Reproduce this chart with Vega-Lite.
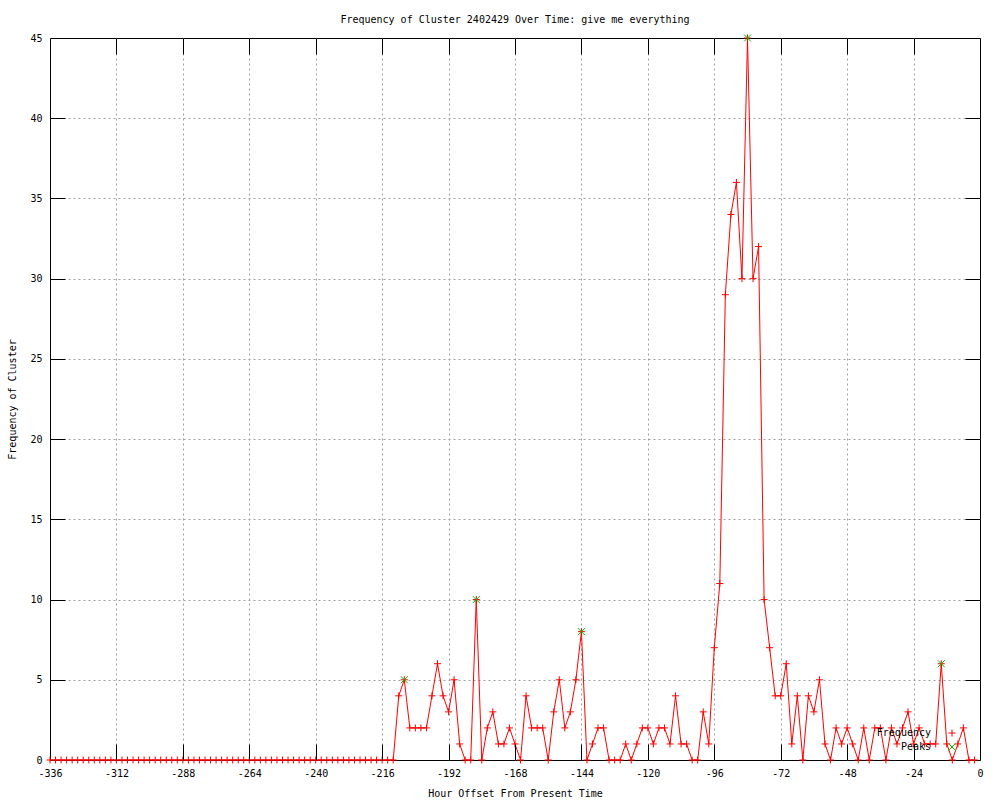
{
  "$schema": "https://vega.github.io/schema/vega-lite/v6.json",
  "width": 930,
  "height": 722,
  "autosize": {"type": "none"},
  "padding": {"left": 50, "top": 38, "right": 20, "bottom": 40},
  "background": "white",
  "title": {"text": "Frequency of Cluster 2402429 Over Time: give me everything", "font": "DejaVu Sans Mono", "fontSize": 10, "fontWeight": "normal", "color": "black", "anchor": "middle", "offset": 8},
  "datasets": {
    "freq": [
      {"h":-336,"v":0},{"h":-334,"v":0},{"h":-332,"v":0},{"h":-330,"v":0},{"h":-328,"v":0},{"h":-326,"v":0},{"h":-324,"v":0},{"h":-322,"v":0},{"h":-320,"v":0},{"h":-318,"v":0},
      {"h":-316,"v":0},{"h":-314,"v":0},{"h":-312,"v":0},{"h":-310,"v":0},{"h":-308,"v":0},{"h":-306,"v":0},{"h":-304,"v":0},{"h":-302,"v":0},{"h":-300,"v":0},{"h":-298,"v":0},
      {"h":-296,"v":0},{"h":-294,"v":0},{"h":-292,"v":0},{"h":-290,"v":0},{"h":-288,"v":0},{"h":-286,"v":0},{"h":-284,"v":0},{"h":-282,"v":0},{"h":-280,"v":0},{"h":-278,"v":0},
      {"h":-276,"v":0},{"h":-274,"v":0},{"h":-272,"v":0},{"h":-270,"v":0},{"h":-268,"v":0},{"h":-266,"v":0},{"h":-264,"v":0},{"h":-262,"v":0},{"h":-260,"v":0},{"h":-258,"v":0},
      {"h":-256,"v":0},{"h":-254,"v":0},{"h":-252,"v":0},{"h":-250,"v":0},{"h":-248,"v":0},{"h":-246,"v":0},{"h":-244,"v":0},{"h":-242,"v":0},{"h":-240,"v":0},{"h":-238,"v":0},
      {"h":-236,"v":0},{"h":-234,"v":0},{"h":-232,"v":0},{"h":-230,"v":0},{"h":-228,"v":0},{"h":-226,"v":0},{"h":-224,"v":0},{"h":-222,"v":0},{"h":-220,"v":0},{"h":-218,"v":0},
      {"h":-216,"v":0},{"h":-214,"v":0},{"h":-212,"v":0},{"h":-210,"v":4},{"h":-208,"v":5},{"h":-206,"v":2},{"h":-204,"v":2},{"h":-202,"v":2},{"h":-200,"v":2},{"h":-198,"v":4},
      {"h":-196,"v":6},{"h":-194,"v":4},{"h":-192,"v":3},{"h":-190,"v":5},{"h":-188,"v":1},{"h":-186,"v":0},{"h":-184,"v":0},{"h":-182,"v":10},{"h":-180,"v":0},{"h":-178,"v":2},
      {"h":-176,"v":3},{"h":-174,"v":1},{"h":-172,"v":1},{"h":-170,"v":2},{"h":-168,"v":1},{"h":-166,"v":0},{"h":-164,"v":4},{"h":-162,"v":2},{"h":-160,"v":2},{"h":-158,"v":2},
      {"h":-156,"v":0},{"h":-154,"v":3},{"h":-152,"v":5},{"h":-150,"v":2},{"h":-148,"v":3},{"h":-146,"v":5},{"h":-144,"v":8},{"h":-142,"v":0},{"h":-140,"v":1},{"h":-138,"v":2},
      {"h":-136,"v":2},{"h":-134,"v":0},{"h":-132,"v":0},{"h":-130,"v":0},{"h":-128,"v":1},{"h":-126,"v":0},{"h":-124,"v":1},{"h":-122,"v":2},{"h":-120,"v":2},{"h":-118,"v":1},
      {"h":-116,"v":2},{"h":-114,"v":2},{"h":-112,"v":1},{"h":-110,"v":4},{"h":-108,"v":1},{"h":-106,"v":1},{"h":-104,"v":0},{"h":-102,"v":0},{"h":-100,"v":3},{"h":-98,"v":1},
      {"h":-96,"v":7},{"h":-94,"v":11},{"h":-92,"v":29},{"h":-90,"v":34},{"h":-88,"v":36},{"h":-86,"v":30},{"h":-84,"v":45},{"h":-82,"v":30},{"h":-80,"v":32},{"h":-78,"v":10},
      {"h":-76,"v":7},{"h":-74,"v":4},{"h":-72,"v":4},{"h":-70,"v":6},{"h":-68,"v":1},{"h":-66,"v":4},{"h":-64,"v":0},{"h":-62,"v":4},{"h":-60,"v":3},{"h":-58,"v":5},
      {"h":-56,"v":1},{"h":-54,"v":0},{"h":-52,"v":2},{"h":-50,"v":1},{"h":-48,"v":2},{"h":-46,"v":1},{"h":-44,"v":0},{"h":-42,"v":2},{"h":-40,"v":0},{"h":-38,"v":2},
      {"h":-36,"v":2},{"h":-34,"v":0},{"h":-32,"v":2},{"h":-30,"v":1},{"h":-28,"v":2},{"h":-26,"v":3},{"h":-24,"v":1},{"h":-22,"v":2},{"h":-20,"v":1},{"h":-18,"v":1},
      {"h":-16,"v":1},{"h":-14,"v":6},{"h":-12,"v":1},{"h":-10,"v":0},{"h":-8,"v":1},{"h":-6,"v":2},{"h":-4,"v":0},{"h":-2,"v":0}
    ],
    "peaks": [
      {"h":-208,"v":5},{"h":-182,"v":10},{"h":-144,"v":8},{"h":-84,"v":45},{"h":-14,"v":6}
    ]
  },
  "config": {
    "view": {"stroke": "black", "strokeWidth": 1},
    "axis": {
      "labelFont": "DejaVu Sans Mono", "labelFontSize": 10, "labelColor": "black", "labelFlush": false,
      "titleFont": "DejaVu Sans Mono", "titleFontSize": 10, "titleFontWeight": "normal", "titleColor": "black",
      "tickColor": "black", "tickWidth": 1, "domain": false,
      "gridColor": "#a0a0a0", "gridDash": [2, 3], "gridWidth": 1, "gridOpacity": 1
    },
    "legend": {
      "orient": "none", "legendX": 897, "legendY": 690, "title": null, "padding": 0,
      "labelFont": "DejaVu Sans Mono", "labelFontSize": 10, "labelColor": "black",
      "labelAlign": "right", "labelOffset": -26, "symbolSize": 49, "symbolStrokeWidth": 1, "rowPadding": 2
    }
  },
  "layer": [
    {
      "data": {"name": "freq"},
      "mark": {"type": "line", "color": "#ff0000", "strokeWidth": 1},
      "encoding": {
        "x": {"field": "h", "type": "quantitative", "scale": {"domain": [-336, 0], "nice": false, "zero": false},
          "axis": {"orient": "bottom", "values": [-336,-312,-288,-264,-240,-216,-192,-168,-144,-120,-96,-72,-48,-24,0], "labelExpr": "'' + datum.value", "grid": false, "ticks": false, "labelPadding": 8, "title": "Hour Offset From Present Time", "titlePadding": 10}},
        "y": {"field": "v", "type": "quantitative", "scale": {"domain": [0, 45], "nice": false, "zero": true},
          "axis": {"orient": "left", "values": [0,5,10,15,20,25,30,35,40,45], "labelExpr": "'' + datum.value", "grid": false, "ticks": false, "labelPadding": 8, "title": "Frequency of Cluster", "titlePadding": 12}}
      }
    },
    {
      "data": {"name": "freq"},
      "mark": {"type": "point", "filled": false, "strokeWidth": 1, "opacity": 1},
      "encoding": {
        "x": {"field": "h", "type": "quantitative",
          "axis": {"orient": "top", "values": [-312,-288,-264,-240,-216,-192,-168,-144,-120,-96,-72,-48,-24], "labels": false, "grid": true, "ticks": true, "tickSize": -16, "title": null}},
        "y": {"field": "v", "type": "quantitative",
          "axis": {"orient": "right", "values": [5,10,15,20,25,30,35,40], "labels": false, "grid": true, "ticks": true, "tickSize": -15, "title": null}},
        "color": {"datum": "Frequency", "type": "nominal", "scale": {"domain": ["Frequency", "Peaks"], "range": ["#ff0000", "#00c000"]}},
        "shape": {"datum": "Frequency", "type": "nominal", "scale": {"domain": ["Frequency", "Peaks"], "range": ["M-1,0L1,0M0,-1L0,1", "M-1,-1L1,1M1,-1L-1,1"]}},
        "size": {"value": 49}
      }
    },
    {
      "data": {"name": "peaks"},
      "mark": {"type": "point", "filled": false, "strokeWidth": 1, "opacity": 1},
      "encoding": {
        "x": {"field": "h", "type": "quantitative",
          "axis": {"orient": "bottom", "values": [-312,-288,-264,-240,-216,-192,-168,-144,-120,-96,-72,-48,-24], "labels": false, "grid": false, "ticks": true, "tickSize": -16, "title": null, "zindex": 1}},
        "y": {"field": "v", "type": "quantitative",
          "axis": {"orient": "left", "values": [5,10,15,20,25,30,35,40], "labels": false, "grid": false, "ticks": true, "tickSize": -15, "title": null, "zindex": 1}},
        "color": {"datum": "Peaks", "type": "nominal"},
        "shape": {"datum": "Peaks", "type": "nominal"},
        "size": {"value": 49}
      }
    }
  ],
  "resolve": {"axis": {"x": "independent", "y": "independent"}}
}
